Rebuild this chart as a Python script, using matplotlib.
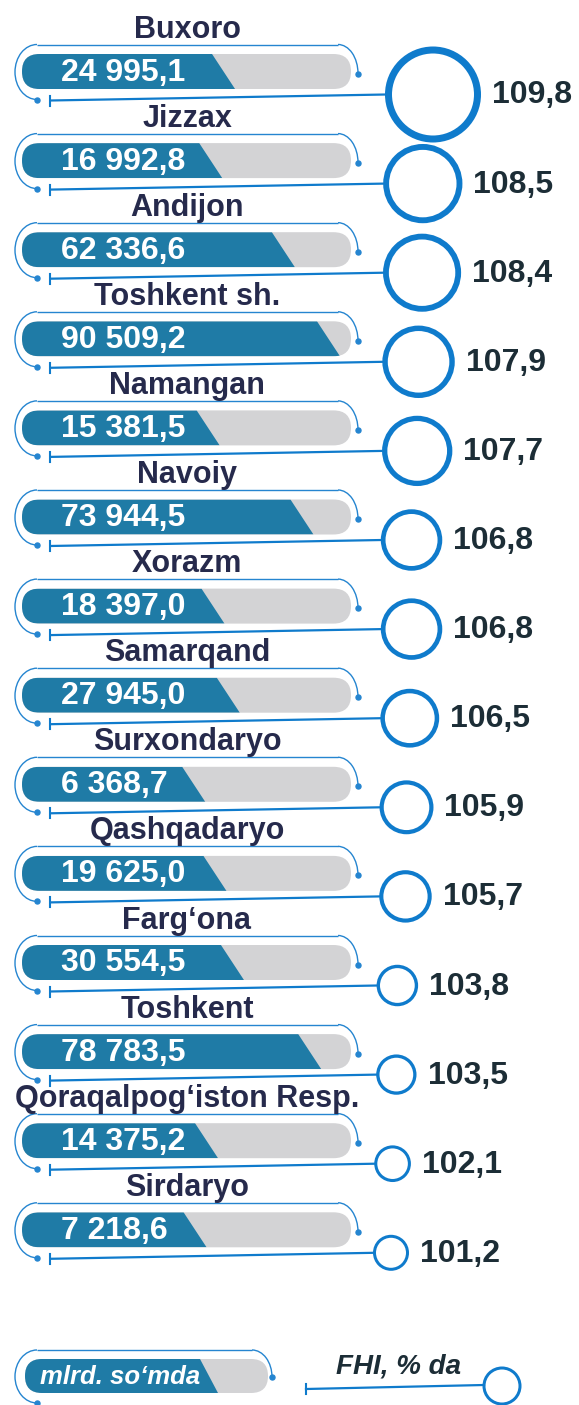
import matplotlib
matplotlib.use("Agg")
import matplotlib.pyplot as plt
from matplotlib.patches import FancyBboxPatch, Polygon, Circle, Arc
import numpy as np

plt.rcParams['font.family'] = ['Liberation Sans', 'DejaVu Sans']

regions = ["Buxoro", "Jizzax", "Andijon", "Toshkent sh.", "Namangan", "Navoiy",
           "Xorazm", "Samarqand", "Surxondaryo", "Qashqadaryo", "Farg‘ona",
           "Toshkent", "Qoraqalpog‘iston Resp.", "Sirdaryo"]
volume = [24995.1, 16992.8, 62336.6, 90509.2, 15381.5, 73944.5, 18397.0,
          27945.0, 6368.7, 19625.0, 30554.5, 78783.5, 14375.2, 7218.6]
fhi = [109.8, 108.5, 108.4, 107.9, 107.7, 106.8, 106.8, 106.5, 105.9,
       105.7, 103.8, 103.5, 102.1, 101.2]
legend_bar = "mlrd. so‘mda"
legend_circle = "FHI, % da"

BAR_BLUE = "#1f7ba6"
GRAY = "#d3d3d5"
RING = "#0f7bcc"
OUTLINE = "#2585d0"
TITLE_C = "#262a4c"
VAL_C = "#1c2d36"

W, H = 579, 1405
fig = plt.figure(figsize=(W / 100, H / 100), dpi=100)
ax = fig.add_axes([0, 0, 1, 1])
ax.set_xlim(0, W)
ax.set_ylim(H, 0)
ax.axis("off")

PX = 0.72  # points per pixel


def fmt(v):
    return f"{v:,.1f}".replace(",", " ").replace(".", ",")


def bar_end(v):
    vmax = max(volume)
    return 195 + 145 * v / vmax


def draw_bar(c, x0, x1, h, xb, slant):
    top = c - h / 2
    gray = FancyBboxPatch((x0, top), x1 - x0, h,
                          boxstyle=f"round,pad=0,rounding_size={h/2}",
                          fc=GRAY, ec="none", zorder=2)
    ax.add_patch(gray)
    blue = Polygon([(x0 - 5, top), (xb - slant, top), (xb, top + h), (x0 - 5, top + h)],
                   closed=True, fc=BAR_BLUE, ec="none", zorder=3)
    ax.add_patch(blue)
    blue.set_clip_path(gray)


def draw_outline(c, xl, xr, rtop, rdot_dy, ldot_dy):
    ax.plot([xl, xr], [c + rtop, c + rtop], color=OUTLINE, lw=1.0, zorder=1,
            solid_capstyle="butt")
    ry = (ldot_dy - rtop) / 2
    cyl = c + rtop + ry
    ax.add_patch(Arc((xl, cyl), 44, 2 * ry, theta1=90, theta2=270,
                     color=OUTLINE, lw=1.0, zorder=1))
    ax.plot([xl], [c + ldot_dy], "o", color=OUTLINE, ms=3.6, zorder=1)
    ry2 = rdot_dy - rtop
    ax.add_patch(Arc((xr, c + rdot_dy), 40, 2 * ry2, theta1=270, theta2=360,
                     color=OUTLINE, lw=1.0, zorder=1))
    ax.plot([xr + 20], [c + rdot_dy], "o", color=OUTLINE, ms=3.6, zorder=1)


fmin, fmax = min(fhi), max(fhi)
for i, (name, v, f) in enumerate(zip(regions, volume, fhi)):
    c = 71.5 + 89.1 * i
    ax.text(187, c - 42, name, ha="center", va="center", fontsize=22,
            fontweight="bold", color=TITLE_C, zorder=5)
    draw_outline(c, 37, 338, -27, 2, 28)
    draw_bar(c, 22, 351, 35, bar_end(v), 23)
    ax.text(61, c + 1, fmt(v), ha="left", va="center", fontsize=23,
            fontweight="bold", color="white", zorder=5)
    t = (f - fmin) / (fmax - fmin)
    r_out = 18 + 30 * t ** 2
    lw_px = 3 + 4 * t ** 2
    left = 373 + 12 * t
    cx = left + r_out
    cy = c + 23
    ax.plot([50, left + 1], [c + 29, cy], color=RING, lw=1.6, zorder=2,
            solid_capstyle="butt")
    ax.plot([50, 50], [c + 24, c + 34], color=RING, lw=1.5, zorder=2)
    ax.add_patch(Circle((cx, cy), r_out - lw_px / 2, fill=False, ec=RING,
                        lw=lw_px * PX, zorder=4))
    ax.text(cx + r_out + 11, cy + 1, f"{f:.1f}".replace(".", ","), ha="left",
            va="center", fontsize=23, fontweight="bold", color=VAL_C, zorder=5)

# legend
lc = 1376
draw_outline(lc, 37, 252, -26, 1, 27)
draw_bar(lc, 25, 268, 34, 218, 18)
ax.text(40, lc + 1, legend_bar, ha="left", va="center", fontsize=18.5,
        fontweight="bold", fontstyle="italic", color="white", zorder=5)
ax.text(398, 1367, legend_circle, ha="center", va="center", fontsize=20,
        fontweight="bold", fontstyle="italic", color=VAL_C, zorder=5)
ax.plot([306, 484], [1389, 1385], color=RING, lw=1.6, zorder=2)
ax.plot([306, 306], [1384, 1394], color=RING, lw=1.5, zorder=2)
ax.add_patch(Circle((502, 1386), 18, fill=False, ec=RING, lw=3 * PX, zorder=4))

fig.savefig("out.png", dpi=100)
